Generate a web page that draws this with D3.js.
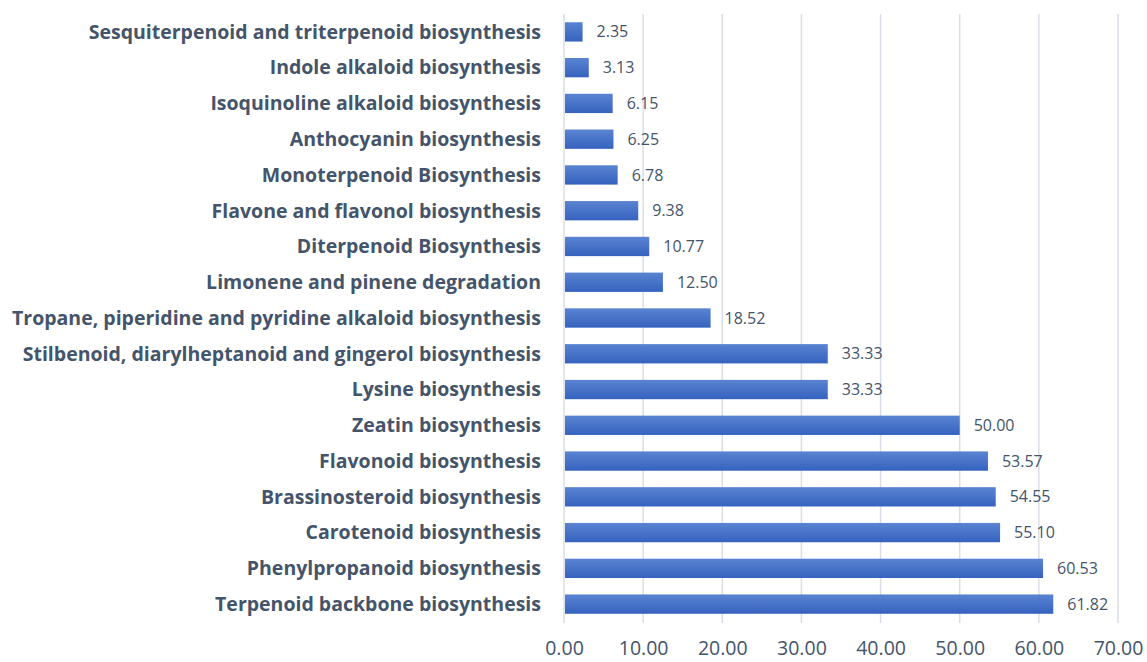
<!DOCTYPE html>
<html>
<head>
<meta charset="utf-8">
<script src="https://cdn.jsdelivr.net/npm/d3@7"></script>
<style>
  body { margin: 0; background: #fff; }
  text { font-family: "Open Sans", Lato, sans-serif; fill: #44546A; }
</style>
</head>
<body>
<svg id="chart" width="1147" height="662"></svg>
<script>
var categories = [
  "Sesquiterpenoid and triterpenoid biosynthesis",
  "Indole alkaloid biosynthesis",
  "Isoquinoline alkaloid biosynthesis",
  "Anthocyanin biosynthesis",
  "Monoterpenoid Biosynthesis",
  "Flavone and flavonol biosynthesis",
  "Diterpenoid Biosynthesis",
  "Limonene and pinene degradation",
  "Tropane, piperidine and pyridine alkaloid biosynthesis",
  "Stilbenoid, diarylheptanoid and gingerol biosynthesis",
  "Lysine biosynthesis",
  "Zeatin biosynthesis",
  "Flavonoid biosynthesis",
  "Brassinosteroid biosynthesis",
  "Carotenoid biosynthesis",
  "Phenylpropanoid biosynthesis",
  "Terpenoid backbone biosynthesis"
];
var values = [2.35, 3.13, 6.15, 6.25, 6.78, 9.38, 10.77, 12.50, 18.52, 33.33, 33.33, 50.00, 53.57, 54.55, 55.10, 60.53, 61.82];
var xTicks = [0, 10, 20, 30, 40, 50, 60, 70];

var data = categories.map(function (c, i) { return { name: c, value: values[i] }; });

var svg = d3.select("#chart"),
  margin = { top: 14, right: 29, bottom: 40, left: 564 },
  width = +svg.attr("width") - margin.left - margin.right,
  height = +svg.attr("height") - margin.top - margin.bottom,
  g = svg.append("g").attr("transform", "translate(" + margin.left + "," + margin.top + ")");

var x = d3.scaleLinear().domain([0, 70]).range([0, width]);
var y = d3.scaleBand().domain(categories).range([0, height]).paddingInner(0.46).paddingOuter(0.23);

var grad = svg.append("defs").append("linearGradient")
  .attr("id", "barGrad").attr("x1", 0).attr("y1", 0).attr("x2", 0).attr("y2", 1);
grad.append("stop").attr("offset", "0%").attr("stop-color", "#5A84D2");
grad.append("stop").attr("offset", "100%").attr("stop-color", "#3562BE");

// grid lines
g.append("g")
  .selectAll("line")
  .data(xTicks)
  .enter().append("line")
  .attr("x1", function (d) { return x(d); })
  .attr("x2", function (d) { return x(d); })
  .attr("y1", 0)
  .attr("y2", height + 1)
  .attr("stroke", "#D9DEE6")
  .attr("stroke-width", 1.5);

// x axis labels
var xAxis = g.append("g")
  .attr("transform", "translate(0," + height + ")")
  .call(d3.axisBottom(x).tickValues(xTicks).tickFormat(d3.format(".2f")).tickSize(0).tickPadding(19));
xAxis.select(".domain").remove();
xAxis.selectAll("text").style("font-size", "19.5px").attr("fill", "#44546A");

// bars
g.selectAll(".bar")
  .data(data)
  .enter().append("rect")
  .attr("class", "bar")
  .attr("x", x(0) + 1)
  .attr("y", function (d) { return y(d.name); })
  .attr("width", function (d) { return x(d.value) - x(0) - 1; })
  .attr("height", y.bandwidth())
  .attr("fill", "url(#barGrad)");

// value labels
g.selectAll(".val")
  .data(data)
  .enter().append("text")
  .attr("class", "val")
  .attr("x", function (d) { return x(d.value) + 14; })
  .attr("y", function (d) { return y(d.name) + y.bandwidth() / 2; })
  .attr("dy", "0.35em")
  .style("font-size", "16px")
  .text(function (d) { return d.value.toFixed(2); });

// category labels
g.selectAll(".cat")
  .data(data)
  .enter().append("text")
  .attr("class", "cat")
  .attr("x", -23)
  .attr("y", function (d) { return y(d.name) + y.bandwidth() / 2; })
  .attr("dy", "0.35em")
  .attr("text-anchor", "end")
  .style("font-size", "19.5px")
  .style("font-weight", "bold")
  .text(function (d) { return d.name; });
</script>
</body>
</html>
